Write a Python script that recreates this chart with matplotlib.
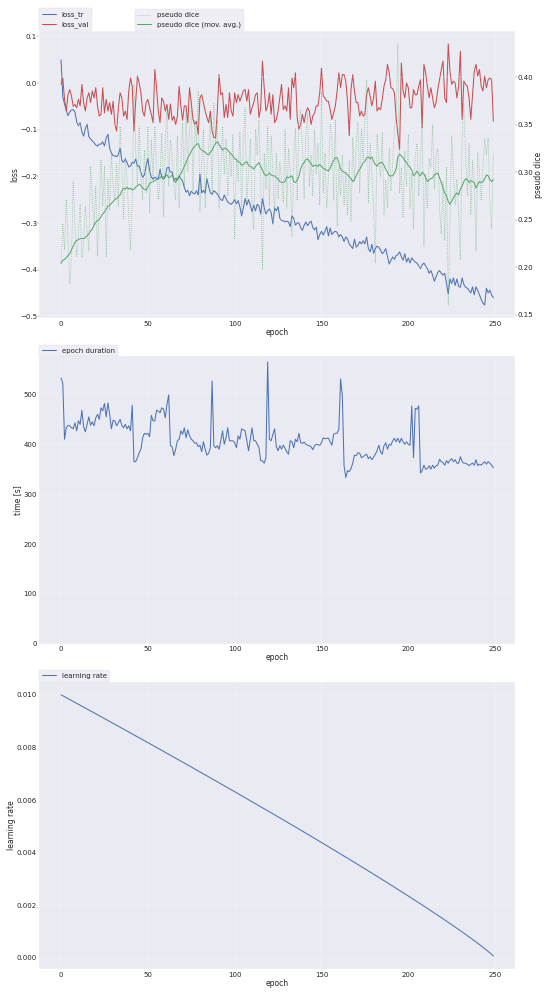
import matplotlib
matplotlib.use("Agg")
import matplotlib.pyplot as plt
import seaborn as sns

loss_tr = [
    0.050, -0.030, -0.045, -0.058, -0.070, -0.062, -0.058, -0.057, -0.062, -0.083,
    -0.092, -0.085, -0.105, -0.114, -0.098, -0.088, -0.115, -0.120, -0.124, -0.128,
    -0.133, -0.135, -0.131, -0.131, -0.126, -0.135, -0.118, -0.110, -0.140, -0.150,
    -0.156, -0.156, -0.158, -0.153, -0.140, -0.166, -0.170, -0.163, -0.170, -0.180,
    -0.178, -0.170, -0.172, -0.163, -0.178, -0.178, -0.192, -0.202, -0.197, -0.178,
    -0.162, -0.188, -0.202, -0.206, -0.202, -0.204, -0.206, -0.185, -0.202, -0.206,
    -0.202, -0.182, -0.181, -0.192, -0.190, -0.210, -0.204, -0.208, -0.200, -0.205,
    -0.210, -0.224, -0.234, -0.230, -0.242, -0.232, -0.236, -0.238, -0.231, -0.240,
    -0.195, -0.236, -0.230, -0.236, -0.205, -0.222, -0.236, -0.238, -0.231, -0.234,
    -0.238, -0.245, -0.250, -0.252, -0.240, -0.248, -0.255, -0.258, -0.260, -0.256,
    -0.250, -0.259, -0.252, -0.266, -0.285, -0.268, -0.248, -0.262, -0.250, -0.262,
    -0.276, -0.262, -0.274, -0.260, -0.264, -0.281, -0.248, -0.267, -0.281, -0.274,
    -0.270, -0.278, -0.302, -0.268, -0.274, -0.265, -0.290, -0.295, -0.295, -0.298,
    -0.296, -0.298, -0.308, -0.285, -0.290, -0.305, -0.300, -0.300, -0.310, -0.316,
    -0.305, -0.298, -0.306, -0.300, -0.296, -0.310, -0.315, -0.309, -0.336, -0.325,
    -0.318, -0.326, -0.318, -0.308, -0.328, -0.311, -0.325, -0.320, -0.318, -0.320,
    -0.330, -0.325, -0.330, -0.340, -0.330, -0.334, -0.345, -0.350, -0.355, -0.335,
    -0.352, -0.348, -0.340, -0.345, -0.338, -0.345, -0.330, -0.355, -0.362, -0.346,
    -0.365, -0.355, -0.350, -0.352, -0.358, -0.366, -0.362, -0.355, -0.372, -0.388,
    -0.380, -0.373, -0.378, -0.370, -0.368, -0.362, -0.372, -0.380, -0.366, -0.384,
    -0.375, -0.386, -0.375, -0.380, -0.384, -0.386, -0.392, -0.398, -0.390, -0.386,
    -0.392, -0.398, -0.408, -0.402, -0.412, -0.425, -0.416, -0.406, -0.402, -0.408,
    -0.412, -0.408, -0.430, -0.452, -0.420, -0.430, -0.418, -0.434, -0.420, -0.436,
    -0.438, -0.418, -0.432, -0.438, -0.440, -0.445, -0.450, -0.437, -0.454, -0.437,
    -0.445, -0.454, -0.464, -0.472, -0.476, -0.440, -0.450, -0.444, -0.455, -0.460,
]

loss_val = [
    -0.003, 0.011, -0.035, -0.060, -0.025, -0.014, -0.028, -0.050, -0.046, -0.053,
    -0.035, -0.049, -0.003, -0.042, -0.060, -0.032, -0.021, -0.042, -0.017, -0.032,
    -0.010, -0.049, -0.071, -0.067, -0.010, -0.064, -0.035, -0.060, -0.042, -0.067,
    -0.039, -0.089, -0.103, -0.053, -0.021, -0.032, -0.071, -0.060, -0.078, -0.017,
    0.011, -0.007, -0.103, -0.039, 0.015, 0.000, -0.021, -0.060, -0.071, -0.042,
    -0.035, -0.053, -0.067, -0.085, 0.029, -0.010, -0.060, -0.085, -0.032, -0.039,
    -0.060, -0.046, -0.078, -0.045, -0.080, -0.071, -0.089, -0.071, -0.007, -0.049,
    -0.080, -0.049, -0.049, -0.085, -0.010, -0.042, -0.078, -0.089, -0.082, -0.110,
    -0.032, -0.025, -0.042, -0.060, -0.074, -0.085, -0.060, -0.103, -0.117, -0.117,
    -0.060, 0.018, -0.025, -0.021, -0.074, -0.046, -0.074, -0.021, -0.060, -0.071,
    -0.021, -0.042, -0.025, -0.039, -0.028, -0.017, -0.014, -0.039, -0.014, -0.067,
    -0.053, -0.042, -0.025, -0.021, -0.074, -0.053, 0.047, -0.010, -0.060, -0.049,
    -0.021, -0.067, -0.025, -0.085, -0.078, -0.060, -0.032, -0.003, -0.057, -0.049,
    -0.060, -0.010, -0.078, 0.011, -0.010, 0.022, -0.074, -0.099, -0.089, -0.067,
    -0.085, -0.064, -0.053, -0.060, -0.089, -0.071, -0.064, -0.049, -0.049, -0.021,
    0.032, -0.028, -0.032, -0.039, -0.039, -0.057, -0.078, -0.064, -0.049, -0.017,
    0.022, -0.010, 0.018, 0.018, 0.004, -0.039, -0.113, -0.014, 0.018, -0.017,
    -0.042, -0.042, -0.071, -0.060, -0.071, -0.067, -0.025, -0.010, -0.028, -0.049,
    -0.032, 0.004, -0.060, -0.053, -0.057, -0.035, -0.007, 0.007, 0.040, 0.022,
    -0.010, -0.012, -0.021, -0.074, -0.110, -0.142, 0.043, -0.017, -0.032, 0.000,
    -0.010, -0.053, -0.053, -0.014, -0.025, -0.025, -0.007, 0.007, -0.096, 0.040,
    0.022, -0.007, -0.032, -0.010, -0.032, -0.053, -0.042, -0.014, 0.007, 0.029,
    0.047, -0.032, -0.042, 0.084, 0.025, -0.003, 0.004, 0.000, -0.032, -0.007,
    0.068, -0.078, 0.004, -0.003, -0.007, -0.032, -0.078, -0.025, 0.025, 0.040,
    0.015, 0.029, -0.007, -0.017, 0.015, -0.010, 0.007, 0.011, 0.007, -0.082,
]

pseudo_dice = [
    0.204, 0.246, 0.218, 0.271, 0.229, 0.182, 0.208, 0.290, 0.243, 0.211,
    0.236, 0.266, 0.210, 0.225, 0.264, 0.239, 0.217, 0.306, 0.274, 0.243,
    0.285, 0.211, 0.267, 0.313, 0.264, 0.306, 0.211, 0.292, 0.260, 0.320,
    0.285, 0.271, 0.309, 0.264, 0.348, 0.306, 0.250, 0.316, 0.292, 0.253,
    0.218, 0.274, 0.392, 0.320, 0.285, 0.348, 0.295, 0.271, 0.323, 0.278,
    0.348, 0.257, 0.334, 0.292, 0.348, 0.306, 0.271, 0.292, 0.341, 0.253,
    0.330, 0.369, 0.285, 0.334, 0.320, 0.285, 0.271, 0.338, 0.262, 0.310,
    0.352, 0.285, 0.365, 0.300, 0.345, 0.372, 0.280, 0.355, 0.330, 0.385,
    0.258, 0.310, 0.345, 0.262, 0.300, 0.325, 0.358, 0.275, 0.372, 0.330,
    0.355, 0.262, 0.305, 0.348, 0.298, 0.335, 0.275, 0.320, 0.295, 0.340,
    0.229, 0.315, 0.290, 0.342, 0.255, 0.330, 0.368, 0.270, 0.300, 0.335,
    0.262, 0.240, 0.345, 0.318, 0.355, 0.290, 0.197, 0.320, 0.282, 0.348,
    0.265, 0.338, 0.300, 0.255, 0.320, 0.272, 0.310, 0.292, 0.268, 0.345,
    0.262, 0.325, 0.298, 0.232, 0.315, 0.346, 0.270, 0.352, 0.365, 0.330,
    0.272, 0.340, 0.362, 0.285, 0.318, 0.275, 0.345, 0.298, 0.330, 0.265,
    0.385, 0.278, 0.320, 0.262, 0.295, 0.350, 0.338, 0.270, 0.355, 0.243,
    0.305, 0.276, 0.318, 0.265, 0.300, 0.255, 0.312, 0.248, 0.336, 0.290,
    0.330, 0.352, 0.278, 0.345, 0.312, 0.360, 0.397, 0.268, 0.330, 0.298,
    0.262, 0.204, 0.340, 0.315, 0.295, 0.342, 0.255, 0.292, 0.262, 0.325,
    0.280, 0.310, 0.345, 0.360, 0.435, 0.278, 0.305, 0.252, 0.322, 0.285,
    0.340, 0.262, 0.298, 0.240, 0.318, 0.330, 0.275, 0.312, 0.360, 0.222,
    0.298, 0.262, 0.315, 0.305, 0.350, 0.282, 0.318, 0.325, 0.260, 0.235,
    0.290, 0.228, 0.305, 0.160, 0.250, 0.338, 0.302, 0.265, 0.292, 0.255,
    0.208, 0.335, 0.372, 0.318, 0.275, 0.330, 0.255, 0.312, 0.288, 0.217,
    0.320, 0.300, 0.270, 0.305, 0.335, 0.318, 0.336, 0.270, 0.240, 0.318,
]

pseudo_dice_ema = [
    0.204, 0.207, 0.208, 0.210, 0.212, 0.214, 0.218, 0.222, 0.226, 0.228,
    0.229, 0.230, 0.230, 0.230, 0.231, 0.233, 0.235, 0.238, 0.240, 0.244,
    0.247, 0.249, 0.250, 0.253, 0.256, 0.258, 0.261, 0.264, 0.265, 0.267,
    0.269, 0.271, 0.272, 0.274, 0.276, 0.280, 0.283, 0.282, 0.284, 0.282,
    0.283, 0.281, 0.282, 0.284, 0.286, 0.287, 0.286, 0.283, 0.282, 0.281,
    0.284, 0.288, 0.289, 0.290, 0.291, 0.292, 0.293, 0.294, 0.295, 0.295,
    0.296, 0.297, 0.294, 0.295, 0.297, 0.292, 0.289, 0.293, 0.296, 0.298,
    0.302, 0.306, 0.310, 0.315, 0.318, 0.322, 0.325, 0.327, 0.329, 0.330,
    0.325, 0.323, 0.322, 0.321, 0.319, 0.318, 0.321, 0.323, 0.327, 0.330,
    0.332, 0.329, 0.326, 0.323, 0.325, 0.325, 0.323, 0.321, 0.319, 0.317,
    0.314, 0.313, 0.311, 0.310, 0.307, 0.308, 0.310, 0.311, 0.307, 0.306,
    0.305, 0.303, 0.306, 0.308, 0.310, 0.306, 0.302, 0.298, 0.296, 0.297,
    0.299, 0.297, 0.296, 0.296, 0.294, 0.293, 0.290, 0.289, 0.289, 0.290,
    0.295, 0.294, 0.295, 0.296, 0.290, 0.289, 0.291, 0.296, 0.303, 0.308,
    0.310, 0.313, 0.314, 0.311, 0.309, 0.306, 0.307, 0.307, 0.306, 0.308,
    0.306, 0.304, 0.303, 0.302, 0.301, 0.304, 0.309, 0.312, 0.315, 0.315,
    0.310, 0.303, 0.301, 0.300, 0.299, 0.297, 0.295, 0.293, 0.290, 0.292,
    0.296, 0.300, 0.303, 0.306, 0.310, 0.311, 0.315, 0.316, 0.314, 0.316,
    0.311, 0.308, 0.306, 0.309, 0.310, 0.310, 0.307, 0.303, 0.300, 0.296,
    0.296, 0.296, 0.299, 0.303, 0.316, 0.319, 0.317, 0.315, 0.312, 0.310,
    0.307, 0.305, 0.302, 0.296, 0.298, 0.301, 0.298, 0.296, 0.300, 0.298,
    0.294, 0.290, 0.292, 0.293, 0.294, 0.297, 0.298, 0.299, 0.294, 0.289,
    0.283, 0.278, 0.275, 0.269, 0.266, 0.269, 0.273, 0.276, 0.278, 0.276,
    0.282, 0.285, 0.290, 0.293, 0.292, 0.289, 0.291, 0.290, 0.289, 0.283,
    0.287, 0.290, 0.289, 0.290, 0.293, 0.297, 0.296, 0.292, 0.290, 0.292,
]

epoch_duration = [
    533, 522, 410, 433, 438, 437, 433, 431, 443, 427,
    447, 440, 468, 435, 425, 440, 455, 438, 445, 437,
    453, 460, 450, 473, 467, 482, 455, 483, 460, 431,
    448, 447, 437, 443, 450, 438, 433, 440, 431, 437,
    427, 478, 365, 365, 373, 383, 390, 413, 422, 420,
    422, 415, 458, 447, 447, 468, 467, 463, 473, 471,
    453, 480, 499, 397, 395, 377, 390, 407, 410, 427,
    420, 433, 413, 429, 417, 410, 407, 402, 403, 395,
    398, 385, 405, 390, 378, 382, 393, 527, 397, 393,
    397, 390, 407, 427, 400, 413, 433, 407, 407, 407,
    403, 393, 417, 410, 431, 429, 427, 407, 387, 410,
    433, 407, 407, 400, 393, 367, 367, 362, 373, 565,
    410, 407, 420, 431, 395, 387, 397, 390, 398, 392,
    385, 380, 407, 405, 393, 410, 405, 422, 403, 402,
    404, 400, 398, 397, 395, 389, 397, 400, 399, 398,
    403, 413, 411, 412, 412, 405, 398, 420, 422, 422,
    430, 531, 497, 357, 333, 347, 345, 351, 362, 378,
    377, 383, 382, 373, 375, 378, 380, 371, 375, 369,
    374, 380, 387, 398, 385, 380, 397, 403, 390, 400,
    398, 407, 412, 405, 412, 403, 412, 405, 400, 405,
    400, 398, 477, 373, 472, 470, 477, 342, 347, 358,
    350, 351, 357, 350, 358, 352, 357, 358, 370, 365,
    363, 358, 367, 362, 368, 371, 365, 369, 362, 362,
    375, 365, 362, 362, 360, 357, 360, 362, 358, 369,
    357, 360, 358, 362, 365, 360, 365, 362, 358, 353,
]

lr_epochs = [0, 10, 20, 30, 40, 50, 60, 70, 80, 90, 100, 110, 120, 130, 140,
             150, 160, 170, 180, 190, 200, 210, 220, 230, 235, 240, 245, 248, 249]
learning_rate = [0.010000, 0.009639, 0.009277, 0.008913, 0.008548, 0.008181,
                 0.007812, 0.007441, 0.007067, 0.006692, 0.006315, 0.005934,
                 0.005551, 0.005166, 0.004777, 0.004384, 0.003987, 0.003586,
                 0.003180, 0.002768, 0.002349, 0.001922, 0.001484, 0.001030,
                 0.000795, 0.000552, 0.000296, 0.000130, 0.0000695]

sns.set(font_scale=2.5)
plt.rcParams['font.family'] = ['DejaVu Sans']

fig, ax_all = plt.subplots(3, 1, figsize=(30, 54.28))

ax = ax_all[0]
ax2 = ax.twinx()
ax.plot(range(len(loss_tr)), loss_tr, color='b', ls='-', label="loss_tr", linewidth=4)
ax.plot(range(len(loss_val)), loss_val, color='r', ls='-', label="loss_val", linewidth=4)
ax2.plot(range(len(pseudo_dice)), pseudo_dice, color='g', ls='dotted', label="pseudo dice",
         linewidth=3, alpha=0.7)
ax2.plot(range(len(pseudo_dice_ema)), pseudo_dice_ema, color='g', ls='-',
         label="pseudo dice (mov. avg.)", linewidth=4)
ax.set_xlabel("epoch")
ax.set_ylabel("loss")
ax2.set_ylabel("pseudo dice")
ax.legend(loc=(0, 1))
ax2.legend(loc=(0.2, 1))

ax = ax_all[1]
ax.plot(range(len(epoch_duration)), epoch_duration, color='b', ls='-', label="epoch duration", linewidth=4)
ylim = [0] + [ax.get_ylim()[1]]
ax.set(ylim=ylim)
ax.set_xlabel("epoch")
ax.set_ylabel("time [s]")
ax.legend(loc=(0, 1))

ax = ax_all[2]
ax.plot(lr_epochs, learning_rate, color='b', ls='-', label="learning rate", linewidth=4)
ax.set_xlabel("epoch")
ax.set_ylabel("learning rate")
ax.legend(loc=(0, 1))

plt.tight_layout()
fig.savefig("out.png", dpi=550 / 30)
